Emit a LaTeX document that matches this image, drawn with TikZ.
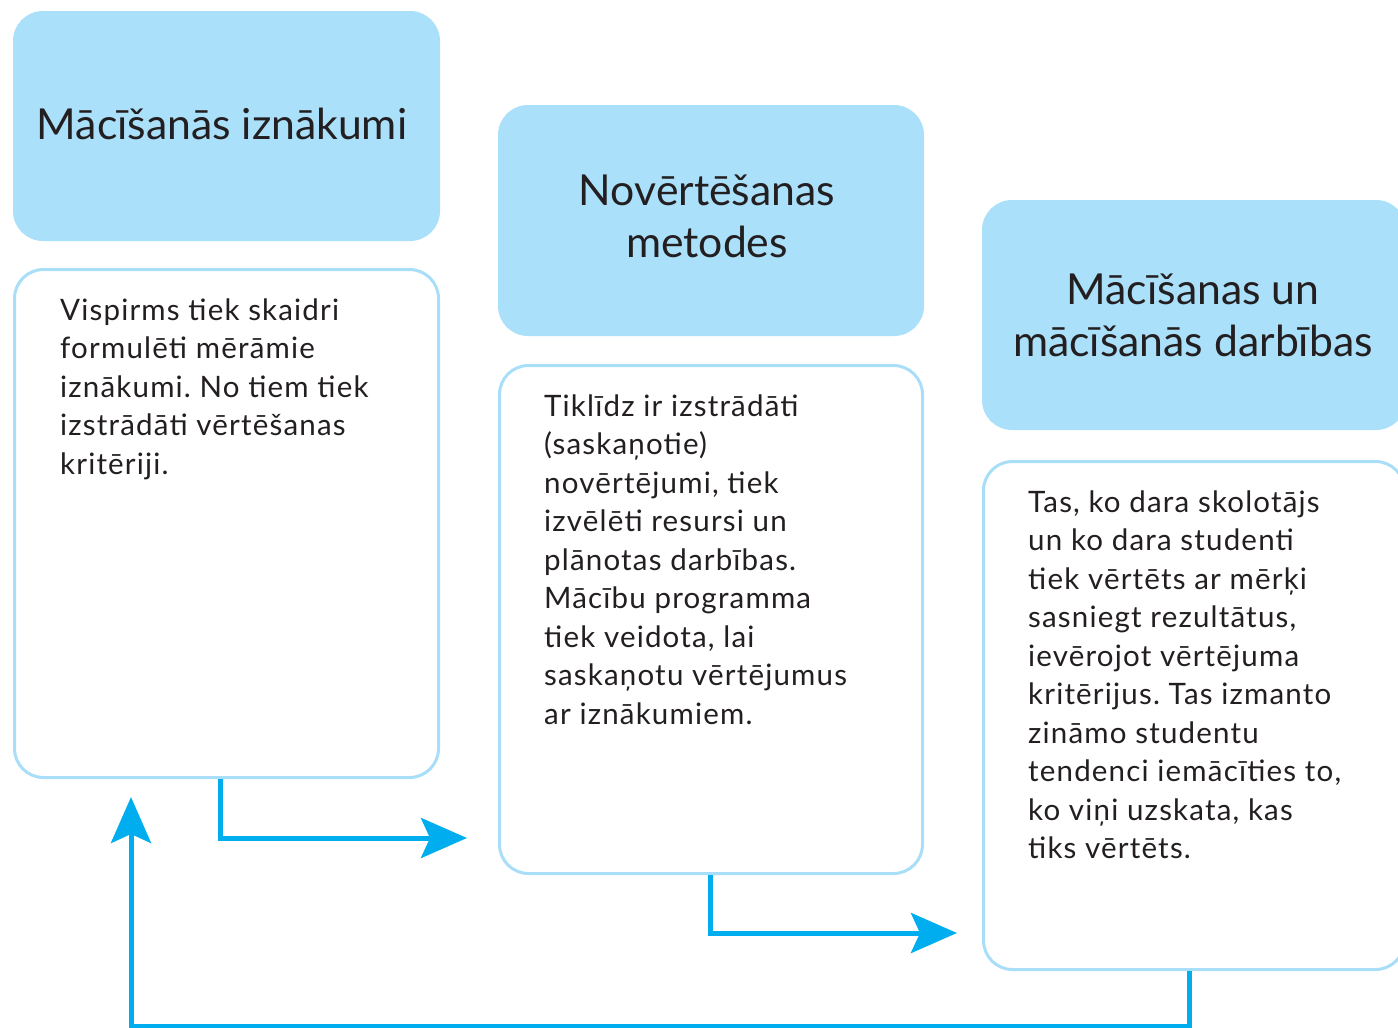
\documentclass[tikz,border=0pt]{standalone}
\usepackage{fontspec}
\setmainfont{Lato}
\newfontfamily\bodyfont[LetterSpace=4.0]{Lato}
\usetikzlibrary{arrows.meta}
\definecolor{headfill}{HTML}{AAE0FA}
\definecolor{bodyline}{HTML}{A9DEF8}
\definecolor{arrowc}{HTML}{00AEEF}
\definecolor{txt}{HTML}{231F20}
\frenchspacing
\tikzset{
  headbox/.style={rectangle, rounded corners=30pt, fill=headfill, inner sep=0pt,
    minimum width=427pt, minimum height=230pt},
  headtext/.style={inner sep=0pt, align=center, text=txt,
    font=\fontsize{42.7}{52}\selectfont},
  bodybox/.style={rectangle, rounded corners=29pt, draw=bodyline, line width=3pt, fill=white,
    inner sep=0pt, minimum width=424pt, minimum height=508pt},
  bodytext/.style={anchor=base west, inner sep=0pt, text=txt, font=\bodyfont\fontsize{29.5}{38.5}\selectfont},
  flow/.style={draw=arrowc, line width=5pt,
    -{Stealth[length=46pt, width=40pt, inset=9pt]}},
}
\newcommand{\ptext}[1]{\parbox[t]{420pt}{\raggedright\frenchspacing #1}}
\begin{document}
\begin{tikzpicture}[x=1pt,y=-1pt]
\useasboundingbox (0,0) rectangle (1398,1028);
\clip (0,0) rectangle (1398,1028);
\fill[white] (0,0) rectangle (1398,1028);

% box 1
\node[headbox] (h1) at (226.5,126) {};
\node[headtext] (l1) at (222,124) {Mācīšanās iznākumi};
\node[bodybox] (b1) at (226.5,523.5) {};
\node[bodytext] (t1) at (60,320) {\ptext{Vispirms tiek skaidri\\formulēti mērāmie\\iznākumi. No tiem tiek\\izstrādāti vērtēšanas\\kritēriji.}};

% box 2
\node[headbox, minimum width=426pt, minimum height=231pt] (h2) at (711,220.5) {};
\node[headtext] (l2) at (707,216.5) {Novērtēšanas\\metodes};
\node[bodybox, minimum width=423pt] (b2) at (711,619.5) {};
\node[bodytext] (t2) at (544,416) {\ptext{Tiklīdz ir izstrādāti\\(saskaņotie)\\novērtējumi, tiek\\izvēlēti resursi un\\plānotas darbības.\\Mācību programma\\tiek veidota, lai\\saskaņotu vērtējumus\\ar iznākumiem.}};

% box 3
\node[headbox, minimum width=424pt] (h3) at (1194,315) {};
\node[headtext] (l3) at (1193,315) {Mācīšanas un\\mācīšanās darbības};
\node[bodybox, minimum width=421pt] (b3) at (1194,715.5) {};
\node[bodytext] (t3) at (1028,512) {\ptext{Tas, ko dara skolotājs\\un ko dara studenti\\tiek vērtēts ar mērķi\\sasniegt rezultātus,\\ievērojot vērtējuma\\kritērijus. Tas izmanto\\zināmo studentu\\tendenci iemācīties to,\\ko viņi uzskata, kas\\tiks vērtēts.}};

% connectors
\coordinate (e1) at (467,838);
\coordinate (e2) at (957,933);
\coordinate (e3) at (131,797);
\draw[flow] (b1.south -| 220,0) |- (e1);
\draw[flow] (b2.south -| 710,0) |- (e2);
\draw[flow] (b3.south -| 1189,0) -- (1189,1026) -| (e3);
\end{tikzpicture}
\end{document}
